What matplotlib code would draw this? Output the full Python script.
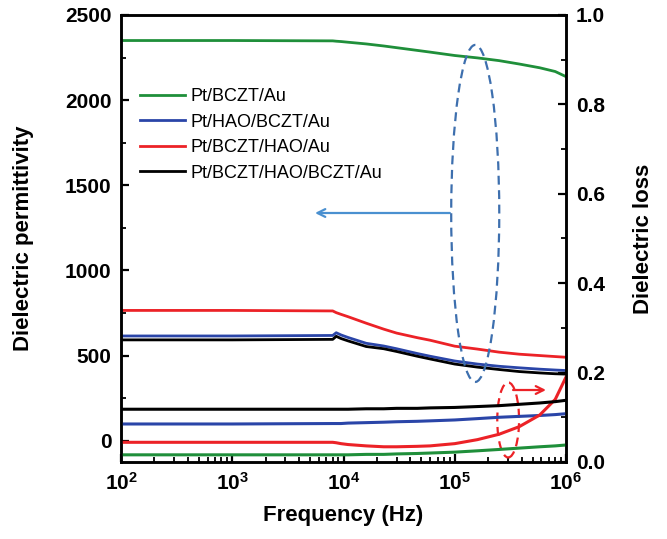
import math
import matplotlib
matplotlib.use("Agg")
import matplotlib.pyplot as plt
from matplotlib.patches import Ellipse
from matplotlib.ticker import FixedLocator, MultipleLocator, FuncFormatter, LogLocator, NullFormatter

plt.rcParams["font.family"] = ["Liberation Sans", "DejaVu Sans"]
plt.rcParams["mathtext.fontset"] = "custom"
plt.rcParams["mathtext.rm"] = "Liberation Sans"
plt.rcParams["mathtext.bf"] = "Liberation Sans:bold"

freq = [1e2, 1e3, 8e3, 8.6e3, 9.5e3, 1.1e4, 1.6e4, 2.3e4, 3e4, 4.6e4, 6e4,
        1e5, 1.6e5, 2.5e5, 3.8e5, 5.8e5, 8e5, 1e6]

labels = ["Pt/BCZT/Au", "Pt/HAO/BCZT/Au", "Pt/BCZT/HAO/Au", "Pt/BCZT/HAO/BCZT/Au"]
colors = ["#1f8f3a", "#2a45a8", "#ec2227", "#000000"]

# dielectric permittivity
eps_bczt = [2350, 2350, 2348, 2346, 2344, 2340, 2330, 2318, 2308, 2292, 2282,
            2262, 2248, 2232, 2212, 2190, 2168, 2138]
eps_hao_bczt = [615, 615, 618, 634, 621, 606, 572, 556, 540, 512, 496,
                468, 450, 437, 428, 420, 415, 412]
eps_bczt_hao = [765, 765, 762, 752, 742, 728, 690, 655, 632, 605, 590,
                555, 538, 520, 508, 500, 494, 490]
eps_sandwich = [592, 592, 595, 613, 600, 586, 553, 540, 524, 496, 480,
                450, 432, 418, 406, 398, 393, 391]

# dielectric loss
loss_bczt = [0.016, 0.016, 0.016, 0.016, 0.016, 0.016, 0.017, 0.017, 0.018,
             0.019, 0.020, 0.022, 0.025, 0.028, 0.031, 0.034, 0.036, 0.038]
loss_hao_bczt = [0.085, 0.085, 0.086, 0.086, 0.086, 0.087, 0.088, 0.089, 0.090,
                 0.091, 0.092, 0.094, 0.097, 0.100, 0.102, 0.104, 0.106, 0.108]
loss_bczt_hao = [0.044, 0.044, 0.044, 0.043, 0.041, 0.039, 0.036, 0.034, 0.034,
                 0.035, 0.036, 0.041, 0.050, 0.062, 0.079, 0.105, 0.140, 0.190]
loss_sandwich = [0.118, 0.118, 0.118, 0.118, 0.118, 0.118, 0.119, 0.119, 0.120,
                 0.120, 0.121, 0.122, 0.124, 0.126, 0.129, 0.132, 0.135, 0.138]

eps_all = [eps_bczt, eps_hao_bczt, eps_bczt_hao, eps_sandwich]
loss_all = [loss_bczt, loss_hao_bczt, loss_bczt_hao, loss_sandwich]

fig = plt.figure(figsize=(6.67, 5.39), dpi=100)
ax = fig.add_axes([0.1814, 0.1429, 0.6672, 0.8293])
ax2 = ax.twinx()

for eps, lab, c in zip(eps_all, labels, colors):
    ax.plot(freq, eps, color=c, lw=2, label=lab)
for loss, c in zip(loss_all, colors):
    ax2.plot(freq, loss, color=c, lw=2.2)

ax.set_xscale("log")
ax.set_xlim(1e2, 1e6)
ax.set_ylim(-125, 2500)
ax2.set_ylim(0, 1.0)

ax.yaxis.set_major_locator(FixedLocator([0, 500, 1000, 1500, 2000, 2500]))
ax.yaxis.set_minor_locator(FixedLocator([250, 750, 1250, 1750, 2250]))
ax2.yaxis.set_major_locator(MultipleLocator(0.2))
ax2.yaxis.set_minor_locator(MultipleLocator(0.1))
ax2.yaxis.set_major_formatter(FuncFormatter(lambda v, p: "%.1f" % v))
ax.xaxis.set_major_locator(LogLocator(base=10, numticks=10))
ax.xaxis.set_minor_locator(LogLocator(base=10, subs=range(2, 10), numticks=50))
ax.xaxis.set_minor_formatter(NullFormatter())
ax.xaxis.set_major_formatter(FuncFormatter(lambda v, p: r"$\mathbf{10^{%d}}$" % round(math.log10(v))))

for a in (ax, ax2):
    for s in a.spines.values():
        s.set_linewidth(1.8)
ax.tick_params(axis="both", which="major", direction="in", length=6, width=1.6,
               labelsize=15, pad=7)
ax.tick_params(axis="both", which="minor", direction="in", length=3.5, width=1.3)
ax.tick_params(axis="y", which="both", right=False)
ax.tick_params(axis="x", which="both", top=False, pad=7)
ax2.tick_params(axis="y", which="major", direction="in", length=6, width=1.6,
                labelsize=15, pad=7)
ax2.tick_params(axis="y", which="minor", direction="in", length=3.5, width=1.3)
for t in ax.get_yticklabels() + ax2.get_yticklabels():
    t.set_fontweight("bold")

ax.set_xlabel("Frequency (Hz)", fontsize=16, fontweight="bold", labelpad=8)
ax.set_ylabel("Dielectric permittivity", fontsize=16, fontweight="bold", labelpad=22)
ax2.set_ylabel("Dielectric loss", fontsize=16, fontweight="bold", labelpad=20)

leg = ax.legend(loc="upper left", bbox_to_anchor=(0.042, 0.836), frameon=False,
                fontsize=13, handlelength=2.5, handletextpad=0.3,
                labelspacing=0.47, borderpad=0, borderaxespad=0)

# guide ellipses and arrows pointing to the relevant axis
ax.add_patch(Ellipse((0.796, 0.556), 0.108, 0.754, transform=ax.transAxes,
                     fill=False, ec="#3d6fae", lw=1.6, ls=(0, (4, 2.5)), zorder=5))
ax.annotate("", xy=(0.436, 0.557), xytext=(0.739, 0.557), xycoords="axes fraction",
            arrowprops=dict(arrowstyle="->", color="#4a90d0", lw=1.6,
                            shrinkA=0, shrinkB=0, mutation_scale=14))
ax.add_patch(Ellipse((0.870, 0.094), 0.049, 0.168, transform=ax.transAxes,
                     fill=False, ec="#ec2227", lw=1.6, ls=(0, (4, 2.5)), zorder=5))
ax.annotate("", xy=(0.955, 0.161), xytext=(0.881, 0.161), xycoords="axes fraction",
            arrowprops=dict(arrowstyle="->", color="#ec2227", lw=1.6,
                            shrinkA=0, shrinkB=0, mutation_scale=14))

fig.savefig("out.png", dpi=100)
